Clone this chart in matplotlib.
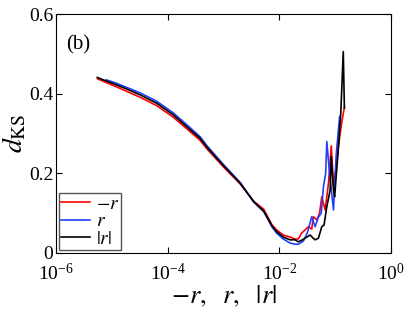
import matplotlib
matplotlib.use('Agg')
import matplotlib.pyplot as plt
import numpy as np

plt.rcParams['font.family'] = ['Liberation Serif', 'DejaVu Serif']
plt.rcParams['mathtext.fontset'] = 'stix'

# log10 of x
red_logx = [-5.26, -5.1, -4.91, -4.7, -4.49, -4.195, -3.9, -3.6, -3.42, -3.30, -3.0, -2.70,
            -2.46, -2.28, -2.13, -2.05, -1.93, -1.81, -1.72, -1.66, -1.60, -1.48, -1.42, -1.39,
            -1.33, -1.28, -1.24, -1.18, -1.12, -1.07, -1.03, -0.98, -0.93, -0.88, -0.835]
red_y = [0.438, 0.428, 0.417, 0.404, 0.391, 0.370, 0.341, 0.305, 0.283, 0.262, 0.216, 0.173,
         0.130, 0.110, 0.070, 0.058, 0.045, 0.040, 0.035, 0.035, 0.050, 0.066, 0.060, 0.091,
         0.083, 0.100, 0.141, 0.108, 0.175, 0.269, 0.170, 0.220, 0.280, 0.330, 0.366]

blue_logx = [-5.1, -4.91, -4.7, -4.49, -4.195, -3.9, -3.6, -3.42, -3.30, -3.0, -2.70, -2.46,
             -2.28, -2.13, -2.05, -1.93, -1.81, -1.72, -1.66, -1.57, -1.50, -1.42, -1.36, -1.30,
             -1.25, -1.21, -1.17, -1.15, -1.10, -1.03, -0.98, -0.92]
blue_y = [0.435, 0.426, 0.414, 0.402, 0.381, 0.352, 0.315, 0.292, 0.270, 0.222, 0.177, 0.128,
          0.104, 0.065, 0.050, 0.035, 0.025, 0.022, 0.022, 0.030, 0.050, 0.091, 0.066, 0.090,
          0.100, 0.167, 0.200, 0.280, 0.200, 0.108, 0.250, 0.343]

black_logx = [-5.26, -5.1, -4.91, -4.7, -4.49, -4.195, -3.9, -3.6, -3.42, -3.30, -3.0, -2.70,
              -2.46, -2.28, -2.13, -2.05, -1.93, -1.81, -1.72, -1.66, -1.60, -1.54, -1.45, -1.40,
              -1.36, -1.30, -1.24, -1.20, -1.15, -1.09, -1.07, -1.03, -1.01, -0.95, -0.90,
              -0.855, -0.835]
black_y = [0.441, 0.432, 0.422, 0.410, 0.397, 0.376, 0.347, 0.310, 0.288, 0.266, 0.219, 0.175,
           0.129, 0.105, 0.068, 0.054, 0.040, 0.033, 0.033, 0.028, 0.032, 0.037, 0.045, 0.038,
           0.033, 0.037, 0.066, 0.070, 0.116, 0.158, 0.242, 0.158, 0.141, 0.250, 0.350,
           0.506, 0.364]

y_ticks = [0, 0.2, 0.4, 0.6]
y_labels = ['0', '0.2', '0.4', '0.6']
x_ticks = [1e-6, 1e-4, 1e-2, 1e0]

fig = plt.figure(figsize=(4.09, 3.15), dpi=100)
ax = fig.add_axes([0.137, 0.197, 0.819, 0.758])

ax.plot(10 ** np.array(red_logx), red_y, color='#ff0000', lw=1.2, label='$-r$')
ax.plot(10 ** np.array(blue_logx), blue_y, color='#1f3fff', lw=1.2, label='$r$')
ax.plot(10 ** np.array(black_logx), black_y, color='black', lw=1.2, label='$|r|$')

ax.set_xscale('log')
ax.set_xlim(1e-6, 1)
ax.set_ylim(0, 0.6)
ax.set_xticks(x_ticks)
ax.xaxis.set_minor_locator(matplotlib.ticker.NullLocator())
ax.set_yticks(y_ticks)
ax.set_yticklabels(y_labels)
ax.tick_params(direction='in', top=True, right=True, labelsize=14, length=4)
ax.tick_params(axis='x', pad=7)
ax.tick_params(axis='y', pad=2)

ax.set_xlabel(r'$-r,\ \ r,\ \ |r|$', fontsize=19, labelpad=0)
ax.set_ylabel(r'$d_{\rm KS}$', fontsize=20, labelpad=0)
ax.text(0.03, 0.87, '(b)', transform=ax.transAxes, fontsize=15, va='center')

leg = ax.legend(loc='lower left', fontsize=14, handlelength=1.5, handletextpad=0.3,
                borderpad=0.1, labelspacing=0.0, borderaxespad=0.15, fancybox=False,
                framealpha=1)
leg.get_frame().set_edgecolor('#555555')
leg.get_frame().set_linewidth(1.0)

fig.savefig('out.png', dpi=100)
